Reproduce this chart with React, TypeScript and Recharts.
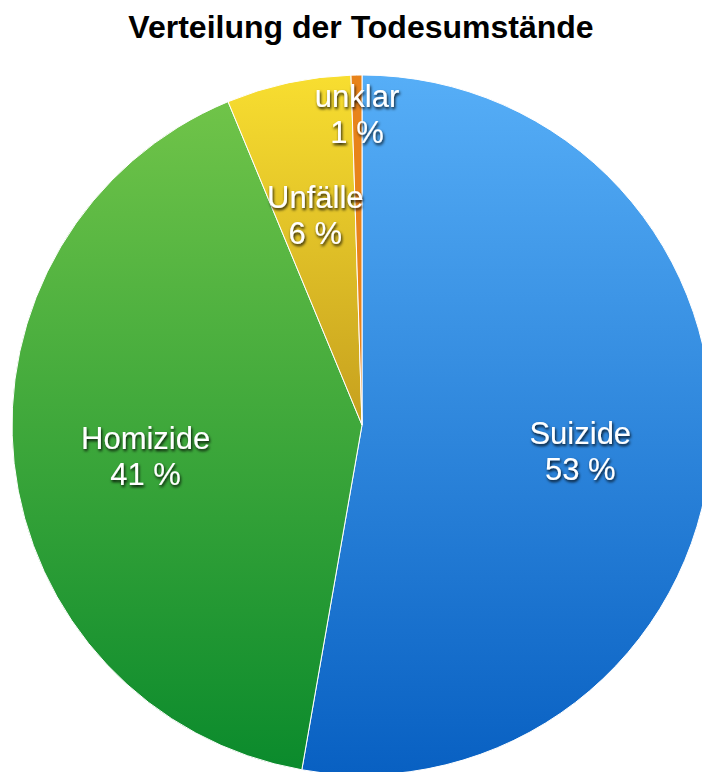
import { Cell, Pie, PieChart } from "recharts";

const categories = ["Suizide", "Homizide", "Unfälle", "unklar"];
const shares = [52.75, 41, 5.75, 0.5];
const percentLabels = ["53 %", "41 %", "6 %", "1 %"];

const data = categories.map((name, i) => ({ name, value: shares[i] }));

const fills = ["url(#gBlue)", "url(#gGreen)", "url(#gYellow)", "#e8831a"];
const labelRadius = [0.626, 0.622, 0.634, 0.908];
const RADIAN = Math.PI / 180;

function SliceLabel(props: any) {
  const { cx, cy, midAngle, outerRadius, index } = props;
  const r = outerRadius * labelRadius[index];
  const x = cx + r * Math.cos(-midAngle * RADIAN);
  const y = cy + r * Math.sin(-midAngle * RADIAN);
  return (
    <text
      x={x}
      y={y}
      fill="#fff"
      textAnchor="middle"
      fontFamily="'Liberation Sans', Arial, sans-serif"
      fontSize={31}
      filter="url(#txtShadow)"
    >
      <tspan x={x} y={y}>
        {categories[index]}
      </tspan>
      <tspan x={x} y={y + 36}>
        {percentLabels[index]}
      </tspan>
    </text>
  );
}

export default function App() {
  return (
    <div style={{ position: "absolute", left: 0, top: 0, width: 702, height: 772, background: "#fff" }}>
      <div
        style={{
          position: "absolute",
          left: 0,
          top: 9,
          width: 722,
          textAlign: "center",
          fontFamily: "'Liberation Sans', Arial, sans-serif",
          fontWeight: "bold",
          fontSize: 32,
          lineHeight: "36px",
          color: "#000",
        }}
      >
        Verteilung der Todesumstände
      </div>
      <PieChart width={702} height={772} margin={{ top: 0, right: 0, bottom: 0, left: 0 }}>
        <defs>
          <linearGradient id="gBlue" gradientUnits="userSpaceOnUse" x1="0" y1="75" x2="0" y2="775">
            <stop offset="0%" stopColor="#56aef7" />
            <stop offset="100%" stopColor="#0860c2" />
          </linearGradient>
          <linearGradient id="gGreen" gradientUnits="userSpaceOnUse" x1="0" y1="75" x2="0" y2="775">
            <stop offset="0%" stopColor="#74c64a" />
            <stop offset="100%" stopColor="#0a8a2c" />
          </linearGradient>
          <linearGradient id="gYellow" gradientUnits="userSpaceOnUse" x1="0" y1="75" x2="0" y2="425">
            <stop offset="0%" stopColor="#f8de30" />
            <stop offset="100%" stopColor="#c6a01e" />
          </linearGradient>
          <filter id="txtShadow" x="-20%" y="-40%" width="140%" height="180%">
            <feDropShadow dx="1" dy="2" stdDeviation="1.5" floodColor="#000" floodOpacity="0.9" />
          </filter>
        </defs>
        <Pie
          data={data}
          dataKey="value"
          nameKey="name"
          cx={362}
          cy={425}
          outerRadius={350}
          startAngle={90}
          endAngle={-270}
          stroke="#fff"
          strokeWidth={1}
          label={SliceLabel}
          labelLine={false}
          isAnimationActive={false}
        >
          {data.map((entry, index) => (
            <Cell key={entry.name} fill={fills[index]} />
          ))}
        </Pie>
      </PieChart>
    </div>
  );
}
